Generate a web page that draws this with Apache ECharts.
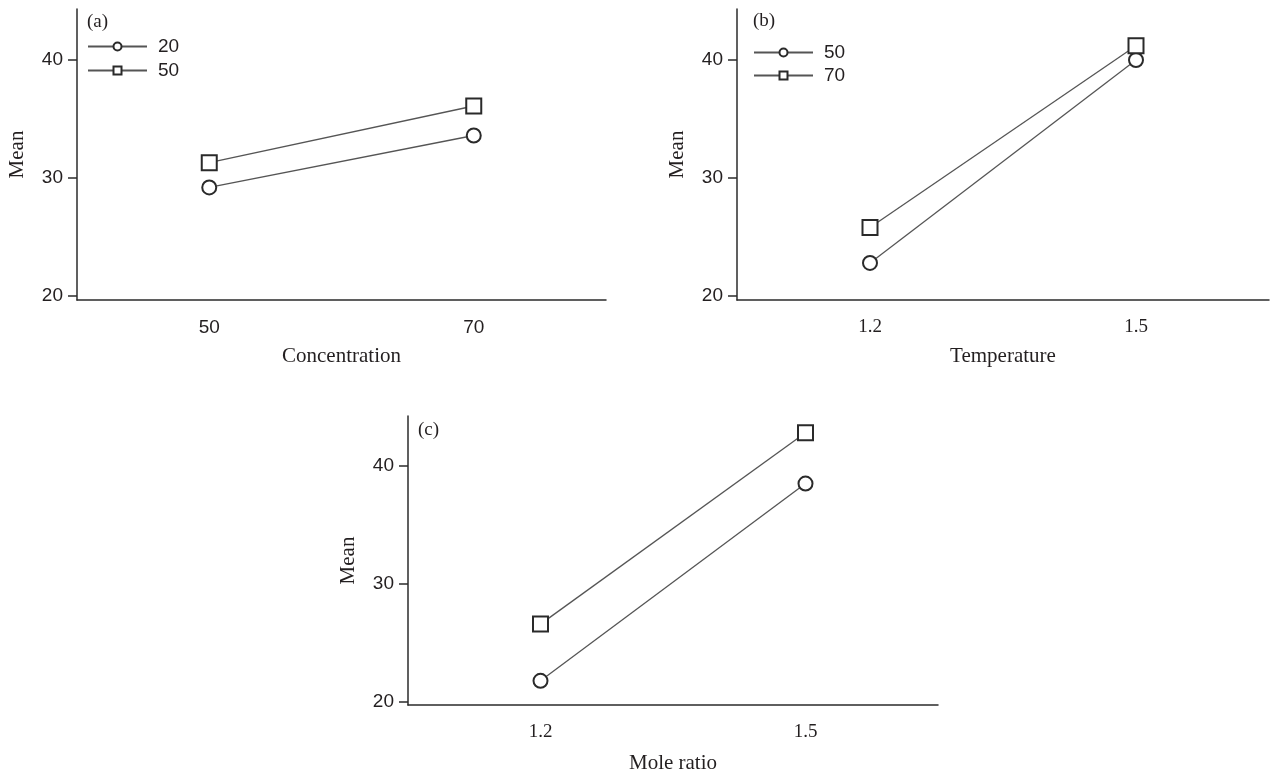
<!DOCTYPE html>
<html>
<head>
<meta charset="utf-8">
<script src="https://cdn.jsdelivr.net/npm/echarts@6/dist/echarts.min.js"></script>
<style>
html,body{margin:0;padding:0;background:#fff;}
#chart{width:1272px;height:775px;}
</style>
</head>
<body>
<div id="chart"></div>
<script>
// ---- data ----
const catsA = ['50', '70'];
const catsB = ['1.2', '1.5'];
const catsC = ['1.2', '1.5'];
const namesA = ['20', '50'];
const namesB = ['50', '70'];
const namesC = ['50', '70'];
const aCircle = [29.2, 33.6];
const aSquare = [31.3, 36.1];
const bCircle = [22.8, 40.0];
const bSquare = [25.8, 41.2];
const cCircle = [21.8, 38.5];
const cSquare = [26.6, 42.8];
const yTicks = [20, 30, 40];
const xTitles = ['Concentration', 'Temperature', 'Mole ratio'];
const yTitle = 'Mean';
const panelLabels = ['(a)', '(b)', '(c)'];

// ---- styles ----
const AX = '#2b2b2b';
const TXT = '#231f20';
const SERIF = '"Liberation Serif", "DejaVu Serif", serif';
const SANS = '"Liberation Sans", "DejaVu Sans", sans-serif';

const grids = [
  {left: 77, top: 9, width: 529, height: 291},
  {left: 737, top: 9, width: 532, height: 291},
  {left: 408, top: 416, width: 530, height: 290}
];
const yRanges = [[19.66, 44.32], [19.66, 44.32], [19.75, 44.22]];
const cats = [catsA, catsB, catsC];
const xFonts = [SANS, SERIF, SERIF];

const xAxes = cats.map((c, i) => ({
  type: 'category', gridIndex: i, data: c, boundaryGap: true,
  axisLine: {onZero: false, lineStyle: {color: AX, width: 1.5}},
  axisTick: {alignWithLabel: true, length: 8, lineStyle: {color: AX, width: 1.5}},
  axisLabel: {color: TXT, fontSize: 19, fontFamily: xFonts[i], margin: 18},
  splitLine: {show: false},
  name: xTitles[i], nameLocation: 'middle', nameGap: i === 2 ? 48 : 46,
  nameTextStyle: {color: TXT, fontSize: 21, fontFamily: SERIF}
}));

const yAxes = yRanges.map((r, i) => ({
  type: 'value', gridIndex: i, min: r[0], max: r[1],
  axisLine: {show: true, lineStyle: {color: AX, width: 1.5}},
  axisTick: {show: true, length: 9, customValues: yTicks, lineStyle: {color: AX, width: 1.5}},
  axisLabel: {color: TXT, fontSize: 19, fontFamily: SANS, margin: 14, customValues: yTicks},
  splitLine: {show: false},
  name: yTitle, nameLocation: 'middle', nameGap: 49, nameRotate: 90,
  nameTextStyle: {color: TXT, fontSize: 21, fontFamily: SERIF}
}));

function mk(prefix, name, idx, sym, vals) {
  return {
    type: 'line', name: prefix + name, xAxisIndex: idx, yAxisIndex: idx,
    data: vals, symbol: sym, symbolSize: sym === 'emptyRect' ? 15 : 14, showAllSymbol: true,
    lineStyle: {color: '#555', width: 1.3},
    itemStyle: {color: '#2a2a2a', borderColor: '#2a2a2a', borderWidth: 1.7},
    animation: false, z: 3
  };
}

const series = [
  mk('a:', namesA[0], 0, 'emptyCircle', aCircle),
  mk('a:', namesA[1], 0, 'emptyRect', aSquare),
  mk('b:', namesB[0], 1, 'emptyCircle', bCircle),
  mk('b:', namesB[1], 1, 'emptyRect', bSquare),
  mk('c:', namesC[0], 2, 'emptyCircle', cCircle),
  mk('c:', namesC[1], 2, 'emptyRect', cSquare)
];

const legendBase = {
  orient: 'vertical', itemWidth: 59, itemHeight: 10, padding: 0,
  textStyle: {color: TXT, fontSize: 19, fontFamily: SANS, padding: [0, 0, 0, 6]},
  formatter: n => n.slice(2), selectedMode: false
};

const option = {
  backgroundColor: '#fff',
  animation: false,
  grid: grids,
  xAxis: xAxes,
  yAxis: yAxes,
  title: [
    {text: panelLabels[0], left: 87, top: 13},
    {text: panelLabels[1], left: 753, top: 12},
    {text: panelLabels[2], left: 418, top: 421}
  ].map(t => Object.assign(t, {padding: 0, textStyle: {color: TXT, fontSize: 19, fontWeight: 'normal', fontFamily: SERIF}})),
  legend: [
    Object.assign({}, legendBase, {data: ['a:' + namesA[0], 'a:' + namesA[1]], left: 87, top: 37, itemGap: 5}),
    Object.assign({}, legendBase, {data: ['b:' + namesB[0], 'b:' + namesB[1]], left: 753, top: 43, itemGap: 4})
  ],
  series: series
};

const chart = echarts.init(document.getElementById('chart'), null, {renderer: 'canvas'});
chart.setOption(option);
</script>
</body>
</html>
